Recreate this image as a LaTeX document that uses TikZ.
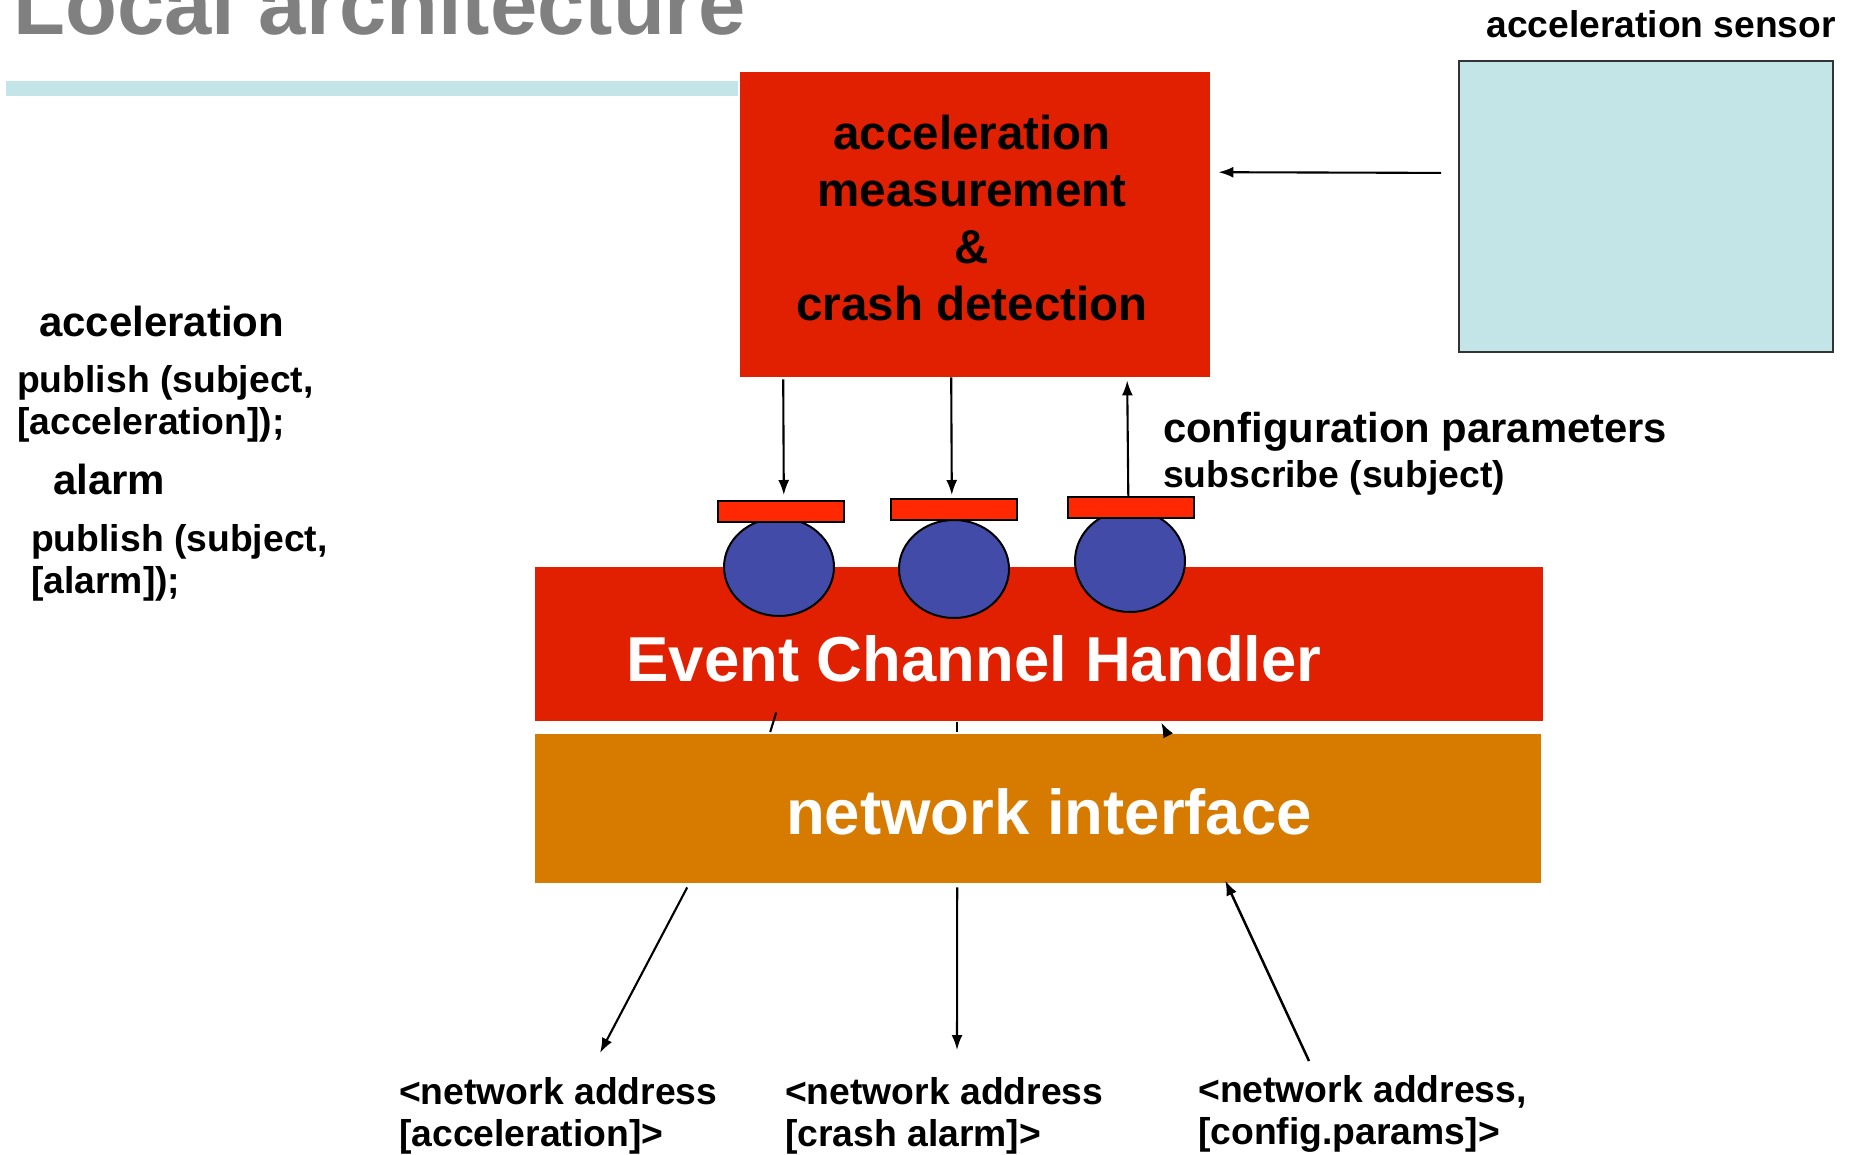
\documentclass[tikz,border=0pt]{standalone}
\usepackage{fontspec}
\setmainfont{Liberation Sans}
\usetikzlibrary{arrows.meta,calc,shapes.geometric}
\definecolor{boxred}{RGB}{224,32,0}
\definecolor{barred}{RGB}{255,40,0}
\definecolor{ballblue}{RGB}{67,75,168}
\definecolor{niorange}{RGB}{214,122,0}
\definecolor{paleblue}{RGB}{196,229,231}
\definecolor{titlegray}{RGB}{128,128,128}
\begin{document}
\begin{tikzpicture}[x=1pt,y=-1pt,
  txt/.style={inner sep=0pt, font=\bfseries\fontsize{37.3}{42.5}\selectfont, align=left},
  bigtxt/.style={inner sep=0pt, font=\bfseries\fontsize{42}{48}\selectfont, align=left},
  plainbox/.style={inner sep=0pt, anchor=north west},
  ball/.style={ellipse, inner sep=0pt, fill=ballblue, draw=black, line width=2pt, minimum width=110pt, minimum height=98pt},
  pad/.style={plainbox, fill=barred, draw=black, line width=1.6pt, minimum width=126pt, minimum height=21pt},
  arr/.style={line width=2.1pt, -{Latex[length=15pt,width=11pt]}},
  ln/.style={line width=2.1pt}
]
\useasboundingbox (0,0) rectangle (1851,1154);

% title
\node[anchor=base west, inner sep=0pt, text=titlegray, font=\bfseries\fontsize{85}{100}\selectfont] (title) at (13,34) {Local architecture};
\node[plainbox, fill=paleblue, minimum width=732pt, minimum height=15pt] (tbar) at (6,81) {};

% acceleration sensor
\node[anchor=east, inner sep=0pt, font=\bfseries\fontsize{37.2}{42}\selectfont] (senslbl) at (1836,24) {acceleration sensor};
\node[plainbox, fill=paleblue, draw=black!80, line width=1.8pt, minimum width=374pt, minimum height=291pt] (sensor) at (1458,60) {};

% measurement box
\node[plainbox, fill=boxred, minimum width=470pt, minimum height=305pt] (red) at (740,72) {};
\node[inner sep=0pt, align=center, font=\bfseries\fontsize{47.5}{57}\selectfont] (redlbl) at (972,218) {acceleration\\measurement\\\&\\crash detection};

% event channel handler
\node[plainbox, fill=boxred, minimum width=1008pt, minimum height=154pt] (ech) at (535,567) {};
\node[inner sep=0pt, text=white, font=\bfseries\fontsize{63.5}{70}\selectfont] (echlbl) at (974,659) {Event Channel Handler};

% network interface
\node[plainbox, fill=niorange, minimum width=1006pt, minimum height=149pt] (ni) at (535,734) {};
\node[inner sep=0pt, text=white, font=\bfseries\fontsize{63.5}{70}\selectfont] (nilbl) at (1049,812) {network interface};

% fragments between ECH and NI
\draw[ln] ($(ech.south)+(-263,-9)$) -- ($(ni.north)+(-268,-2)$);
\draw[ln] ($(ech.south)+(-82,1)$) -- ($(ni.north)+(-81,-2)$);
\draw[arr] ($(ni.north)+(129,0)$) -- ($(ech.south)+(122,1)$);

% balls and pads
\node[ball] (ball1) at (779,567) {};
\node[ball] (ball2) at (954,569) {};
\node[ball, minimum height=102pt] (ball3) at (1130,561) {};
\node[pad] (pad1) at (717,500) {};
\node[pad] (pad2) at (890,498) {};
\node[pad] (pad3) at (1067,496) {};

% arrows at top
\draw[arr] ($(sensor.west)+(-17,-33.5)$) -- ($(red.east)+(8,-52.5)$);
\draw[arr] ($(red.south)+(-192,2)$) -- ($(pad1.north)+(3,-5)$);
\draw[arr] ($(red.south)+(-24,0)$) -- ($(pad2.north)+(-2,-3)$);
\draw[arr] ($(pad3.north)+(-2.5,0)$) -- ($(red.south)+(152,3)$);

% left texts
\node[bigtxt, anchor=west] (acc) at (39,321) {acceleration};
\node[txt, anchor=west] (pub1) at (17,404) {publish (subject,\\{}[acceleration]);};
\node[bigtxt, anchor=west] (alarm) at (53,479) {alarm};
\node[txt, anchor=west] (pub2) at (31,563) {publish (subject,\\{}[alarm]);};

% right texts
\node[inner sep=0pt, anchor=west, font=\bfseries\fontsize{41.8}{46}\selectfont] (cfg) at (1163,432) {configuration parameters};
\node[txt, anchor=west] (sub) at (1163,478) {subscribe (subject)};

% bottom labels
\node[txt, anchor=west] (addr1) at (399,1116) {<network address\\{}[acceleration]>};
\node[txt, anchor=west] (addr2) at (785,1116) {<network address\\{}[crash alarm]>};
\node[txt, anchor=west] (addr3) at (1198,1114) {<network address,\\{}[config.params]>};

\coordinate (tipA) at (600,1053);
\coordinate (tipB) at (957,1050);
\coordinate (startC) at (1309,1061);
\draw[arr] ($(ni.south)+(-351,4)$) -- (tipA);
\draw[arr] ($(ni.south)+(-81,4)$) -- (tipB);
\draw[arr, line width=2.5pt] (startC) -- ($(ni.south)+(187,-3)$);
\end{tikzpicture}
\end{document}
